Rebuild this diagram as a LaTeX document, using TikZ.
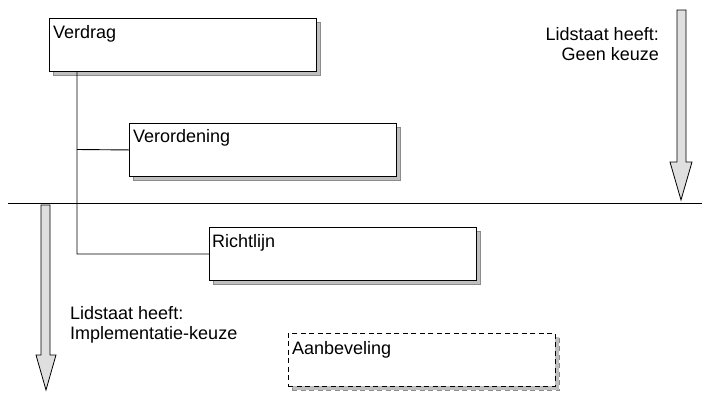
\documentclass[tikz,border=0pt]{standalone}
\usepackage{fontspec}
\setmainfont{Liberation Sans}
\begin{document}
\begin{tikzpicture}[x=1pt,y=-1pt,
  box/.style={draw=black,line width=0.9pt,fill=white,anchor=north west,minimum width=267pt,minimum height=53pt,inner sep=0pt},
  shadow/.style={draw=gray!90,line width=0.6pt,fill=gray!50,anchor=north west,minimum width=267pt,minimum height=53pt,inner sep=0pt},
  dsh/.style={dash pattern=on 5pt off 3.5pt},
  lbl/.style={anchor=base west,inner sep=0pt,font=\fontsize{18}{21}\selectfont},
  note/.style={inner sep=0pt,font=\fontsize{18}{20.5}\selectfont},
  conn/.style={draw=black,line width=0.9pt},
  bigarrow/.style={draw=black,line width=0.8pt,fill=gray!25,line join=miter}]
\useasboundingbox (0,0) rectangle (710,392);
% horizontal divider
\coordinate (hl) at (8,203);
\coordinate (hr) at (702,203);
\draw[line width=0.9pt] (hl) -- (hr);
% shadows
\node[shadow] (s1) at (53,22) {};
\node[shadow] (s2) at (133,127) {};
\node[shadow] (s3) at (213,231) {};
\node[shadow,dsh] (s4) at (292,337) {};
% boxes
\node[box] (verdrag) at (49,18) {};
\node[box] (verordening) at (129,123) {};
\node[box] (richtlijn) at (209,227) {};
\node[box,dsh] (aanbeveling) at (288,333) {};
% labels
\node[lbl] (t1) at (53,38) {Verdrag};
\node[lbl] (t2) at (133,142) {Verordening};
\node[lbl] (t3) at (212,247) {Richtlijn};
\node[lbl] (t4) at (292,354) {Aanbeveling};
% connectors
\coordinate (c0) at (77,71);
\coordinate (c1) at (77,149.5);
\coordinate (c2) at (77,254);
\draw[conn] (c0) -- (c2) -- (richtlijn.west);
\draw[conn] (c1) -- (verordening.west);
% big arrows
\draw[bigarrow] (677,10) -- (686,10) -- (686,162) -- (692,162) -- (681,200) -- (670,162) -- (677,162) -- cycle;
\draw[bigarrow] (41,205) -- (50,205) -- (50,355) -- (56,355) -- (46,390) -- (36,355) -- (41,355) -- cycle;
% notes
\node[note,align=right,anchor=north east] (n1) at (659,27) {Lidstaat heeft:\\Geen keuze};
\node[note,align=left,anchor=north west] (n2) at (70,306) {Lidstaat heeft:\\Implementatie-keuze};
\end{tikzpicture}
\end{document}
